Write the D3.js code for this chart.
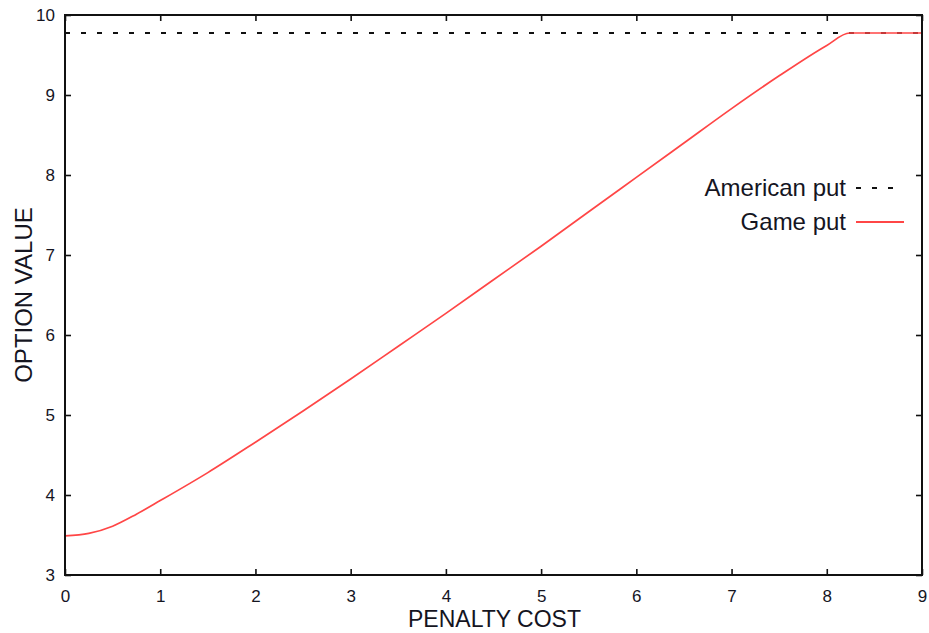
<!DOCTYPE html>
<html>
<head>
<meta charset="utf-8">
<script src="https://cdn.jsdelivr.net/npm/d3@7"></script>
<style>
  body { margin: 0; background: #fff; }
  svg text { font-family: "Liberation Sans", Arial, sans-serif; fill: #15151f; }
</style>
</head>
<body>
<svg id="chart" width="929" height="633"></svg>
<script>
// Penalty cost grid and the game put value along it
const penaltyCost = [0, 0.25, 0.5, 0.75, 1, 1.5, 2, 2.5, 3, 3.5, 4, 4.5, 5, 5.5, 6, 6.5, 7, 7.5, 8, 8.24, 9];
const gamePut     = [3.49, 3.52, 3.61, 3.76, 3.93, 4.28, 4.66, 5.05, 5.45, 5.86, 6.27, 6.69, 7.11, 7.54, 7.97, 8.40, 8.83, 9.24, 9.62, 9.775, 9.775];
// American put value (flat)
const americanPut = 9.775;
const xTicks = [0, 1, 2, 3, 4, 5, 6, 7, 8, 9];
const yTicks = [3, 4, 5, 6, 7, 8, 9, 10];
const seriesNames = ["American put", "Game put"];

const svg = d3.select("#chart");
const W = 929, H = 633;
const m = { left: 65, right: W - 922, top: 15, bottom: H - 575 };
const x = d3.scaleLinear().domain([0, 9]).range([m.left, W - m.right]);
const y = d3.scaleLinear().domain([3, 10]).range([H - m.bottom, m.top]);

const red = "#ff4646";
const dash = "5,11";

// data lines
svg.append("line")
  .attr("x1", x(0)).attr("x2", x(9))
  .attr("y1", y(americanPut)).attr("y2", y(americanPut))
  .attr("stroke", "#111").attr("stroke-width", 2.2)
  .attr("stroke-dasharray", dash);

const line = d3.line()
  .x((d, i) => x(penaltyCost[i]))
  .y(d => y(d))
  .curve(d3.curveMonotoneX);
svg.append("path")
  .attr("d", line(gamePut))
  .attr("fill", "none").attr("stroke", red).attr("stroke-width", 1.7);

// axes with inward ticks on all sides
const tick = 6;
const axB = svg.append("g").attr("transform", `translate(0,${y(3)})`)
  .call(d3.axisBottom(x).tickValues(xTicks).tickSize(-tick).tickPadding(15).tickFormat(d3.format("d")));
const axT = svg.append("g").attr("transform", `translate(0,${y(10)})`)
  .call(d3.axisTop(x).tickValues(xTicks).tickSize(-tick).tickFormat(""));
const axL = svg.append("g").attr("transform", `translate(${x(0)},0)`)
  .call(d3.axisLeft(y).tickValues(yTicks).tickSize(-tick).tickPadding(10).tickFormat(d3.format("d")));
const axR = svg.append("g").attr("transform", `translate(${x(9)},0)`)
  .call(d3.axisRight(y).tickValues(yTicks).tickSize(-tick).tickFormat(""));
[axB, axT, axL, axR].forEach(g => {
  g.select(".domain").remove();
  g.selectAll(".tick line").attr("stroke", "#111").attr("stroke-width", 1.6);
  g.selectAll("text").attr("font-size", 17).attr("fill", "#15151f");
});

// frame
svg.append("rect")
  .attr("x", x(0)).attr("y", y(10))
  .attr("width", x(9) - x(0)).attr("height", y(3) - y(10))
  .attr("fill", "none").attr("stroke", "#111").attr("stroke-width", 2);

// axis titles
svg.append("text").attr("x", (x(0) + x(9)) / 2 + 1).attr("y", 627)
  .attr("text-anchor", "middle").attr("font-size", 23).text("PENALTY COST");
svg.append("text").attr("transform", `translate(32,${(y(3) + y(10)) / 2}) rotate(-90)`)
  .attr("text-anchor", "middle").attr("font-size", 24).text("OPTION VALUE");

// legend
const lg = svg.append("g");
const lgY = [188, 222];
seriesNames.forEach((name, i) => {
  lg.append("text").attr("x", 846).attr("y", lgY[i] + 8)
    .attr("text-anchor", "end").attr("font-size", 24).text(name);
  const l = lg.append("line").attr("x1", 856).attr("x2", 904)
    .attr("y1", lgY[i]).attr("y2", lgY[i]);
  if (i === 0) l.attr("stroke", "#111").attr("stroke-width", 2.2).attr("stroke-dasharray", dash);
  else l.attr("stroke", red).attr("stroke-width", 1.8);
});
</script>
</body>
</html>
